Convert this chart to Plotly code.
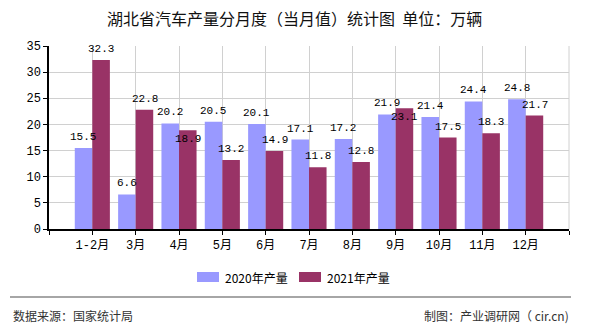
import plotly.graph_objects as go

# Monthly vehicle output in Hubei (10k units)
months = ["1-2月", "3月", "4月", "5月", "6月", "7月", "8月", "9月", "10月", "11月", "12月"]
output_2020 = [15.5, 6.6, 20.2, 20.5, 20.1, 17.1, 17.2, 21.9, 21.4, 24.4, 24.8]
output_2021 = [32.3, 22.8, 18.9, 13.2, 14.9, 11.8, 12.8, 23.1, 17.5, 18.3, 21.7]
series_names = ["2020年产量", "2021年产量"]
y_ticks = [0, 5, 10, 15, 20, 25, 30, 35]

COLORS = ["#9999FF", "#993366"]
W, H = 590, 330
L, R, T, B = 49, 21, 46, 101
PW, PH = W - L - R, H - T - B
NUM_FONT = "Liberation Mono, DejaVu Sans Mono, Noto Sans CJK SC, monospace"
CJK_FONT = "Noto Sans CJK SC, Noto Sans, sans-serif"


def px(x):
    return (x - L) / PW


def py(y):
    return (H - B - y) / PH


xs = list(range(len(months)))
fig = go.Figure()
for name, vals, col in zip(series_names, [output_2020, output_2021], COLORS):
    fig.add_trace(go.Bar(x=xs, y=vals, name=name, marker=dict(color=col, line=dict(width=0)),
                         showlegend=False))

# value labels above each bar; the second series' label drops below its bar top
# when it would collide with the neighbouring label
annotations = []
BAR_OFF = 0.205
for i in xs:
    a, b = output_2020[i], output_2021[i]
    annotations.append(dict(x=i - BAR_OFF, y=a, xref="x", yref="y", text=f"{a}", showarrow=False,
                            yshift=11, font=dict(family=NUM_FONT, size=11, color="#000")))
    shift = -9 if abs(a - b) < 2 else 11
    annotations.append(dict(x=i + BAR_OFF, y=b, xref="x", yref="y", text=f"{b}", showarrow=False,
                            yshift=shift, font=dict(family=NUM_FONT, size=11, color="#000")))

# title
annotations.append(dict(x=px(294), y=py(18), xref="paper", yref="paper",
                        text="湖北省汽车产量分月度（当月值）统计图  单位：万辆", showarrow=False,
                        xanchor="center", yanchor="middle",
                        font=dict(family=CJK_FONT, size=16, color="#111")))

# legend drawn by hand: wide swatches with labels
shapes = []
legend_items = [(197, series_names[0], COLORS[0]), (299, series_names[1], COLORS[1])]
for x0, name, col in legend_items:
    shapes.append(dict(type="rect", xref="paper", yref="paper", x0=px(x0), x1=px(x0 + 22),
                       y0=py(282), y1=py(272), fillcolor=col, line=dict(width=0)))
    annotations.append(dict(x=px(x0 + 26), y=py(277), xref="paper", yref="paper", text=name,
                            showarrow=False, xanchor="left", yanchor="middle",
                            font=dict(family=CJK_FONT, size=12, color="#000")))

# footer rule and source notes
shapes.append(dict(type="line", xref="paper", yref="paper", x0=px(10), x1=px(571), y0=py(297), y1=py(297),
                   line=dict(color="#888888", width=1.5)))
annotations.append(dict(x=px(11), y=py(315), xref="paper", yref="paper", text="数据来源：国家统计局",
                        showarrow=False, xanchor="left", yanchor="middle",
                        font=dict(family=CJK_FONT, size=12, color="#333")))
annotations.append(dict(x=px(571), y=py(315), xref="paper", yref="paper", text="制图：产业调研网（ cir.cn)",
                        showarrow=False, xanchor="right", yanchor="middle",
                        font=dict(family="Noto Sans CJK SC, monospace", size=12, color="#333")))

fig.update_layout(
    width=W, height=H,
    margin=dict(l=L, r=R, t=T, b=B, pad=0),
    paper_bgcolor="white", plot_bgcolor="white",
    barmode="group", bargap=0.19, bargroupgap=0,
    showlegend=False,
    annotations=annotations, shapes=shapes,
    xaxis=dict(
        range=[-1, len(months)],
        tickvals=list(range(-1, len(months) + 1)),
        ticktext=[""] + months + [""],
        showgrid=True, gridcolor="#d0d0d0", gridwidth=1,
        showline=True, linecolor="#000", linewidth=1.5,
        ticks="outside", ticklen=4, tickcolor="#000",
        tickfont=dict(family=NUM_FONT, size=12, color="#000"),
        zeroline=False, fixedrange=True,
    ),
    yaxis=dict(
        range=[0, 35], tickvals=y_ticks,
        showgrid=True, gridcolor="#d0d0d0", gridwidth=1,
        showline=True, linecolor="#000", linewidth=1.5,
        ticks="outside", ticklen=4, tickcolor="#000",
        tickfont=dict(family=NUM_FONT, size=12, color="#000"),
        zeroline=False, fixedrange=True,
    ),
)
# right border of the plot area
fig.add_shape(type="line", xref="paper", yref="paper", x0=1, x1=1, y0=0, y1=1,
              line=dict(color="#d0d0d0", width=1), layer="below")

fig.write_html("out.html")
